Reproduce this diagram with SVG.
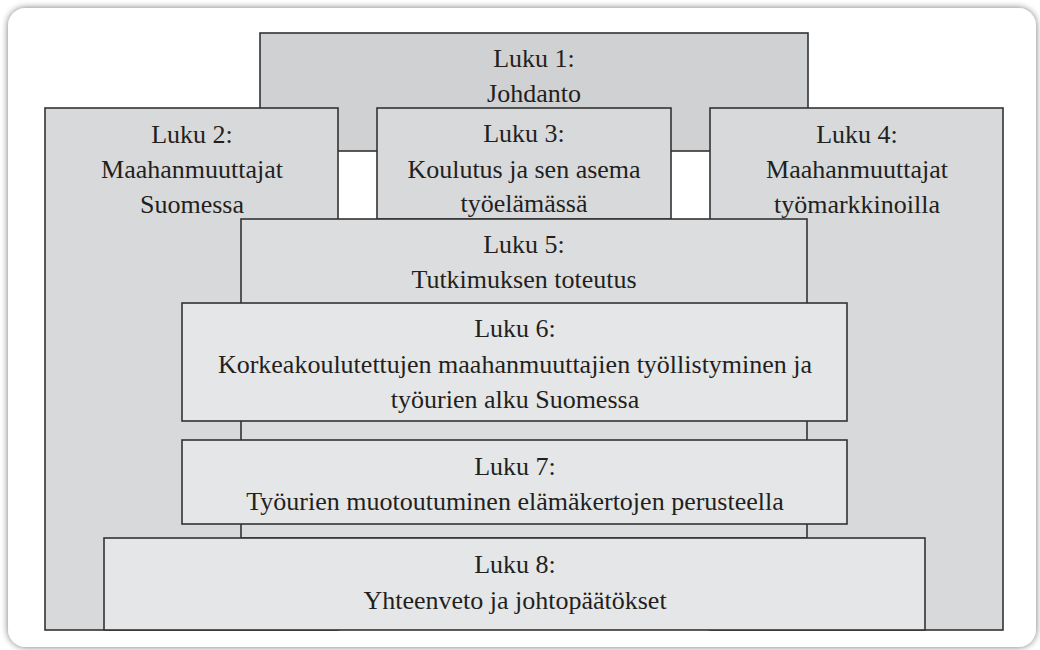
<svg xmlns="http://www.w3.org/2000/svg" width="1040" height="650" viewBox="0 0 1040 650">
  <defs>
    <filter id="shadow" x="-5%" y="-5%" width="110%" height="110%">
      <feGaussianBlur in="SourceAlpha" stdDeviation="3.5"/>
      <feComponentTransfer><feFuncA type="linear" slope="0.55"/></feComponentTransfer>
      <feMerge><feMergeNode/><feMergeNode in="SourceGraphic"/></feMerge>
    </filter>
  </defs>
  <style>
    .box { stroke: #333333; stroke-width: 1.6; }
    .dark { fill: #d0d1d3; }
    .mid { fill: #d8d9db; }
    .col { fill: #dcdddf; }
    .light { fill: #e5e6e7; }
    .t { font-size: 26px; fill: #231f20; text-anchor: middle; }
  </style>
  <rect x="8" y="8" width="1028" height="639" rx="18" ry="18" fill="#ffffff" filter="url(#shadow)"/>

  <g font-family="Liberation Serif, Tinos, Noto Serif, DejaVu Serif, serif">
  <g id="luku1">
    <rect class="box dark" x="260" y="33" width="548" height="118"/>
    <text class="t" x="534" y="67">Luku 1:</text>
    <text class="t" x="534" y="102">Johdanto</text>
  </g>
  <g id="luku2">
    <rect class="box mid" x="45" y="108" width="293" height="522"/>
    <text class="t" x="192" y="143">Luku 2:</text>
    <text class="t" x="192" y="178">Maahanmuuttajat</text>
    <text class="t" x="192" y="213">Suomessa</text>
  </g>
  <g id="luku4">
    <rect class="box mid" x="710" y="108" width="293" height="522"/>
    <text class="t" x="857" y="143">Luku 4:</text>
    <text class="t" x="857" y="178">Maahanmuuttajat</text>
    <text class="t" x="857" y="213">työmarkkinoilla</text>
  </g>
  <g id="luku3">
    <rect class="box mid" x="377" y="108" width="294" height="111"/>
    <text class="t" x="524" y="142">Luku 3:</text>
    <text class="t" x="524" y="178">Koulutus ja sen asema</text>
    <text class="t" x="524" y="212">työelämässä</text>
  </g>
  <g id="luku5">
    <rect class="box col" x="241" y="219" width="566" height="319"/>
    <text class="t" x="524" y="253">Luku 5:</text>
    <text class="t" x="524" y="288">Tutkimuksen toteutus</text>
  </g>
  <g id="luku6">
    <rect class="box light" x="182" y="303" width="665" height="118"/>
    <text class="t" x="515" y="337">Luku 6:</text>
    <text class="t" x="515" y="373">Korkeakoulutettujen maahanmuuttajien työllistyminen ja</text>
    <text class="t" x="515" y="408">työurien alku Suomessa</text>
  </g>
  <g id="luku7">
    <rect class="box light" x="182" y="440" width="665" height="84"/>
    <text class="t" x="515" y="475">Luku 7:</text>
    <text class="t" x="515" y="510">Työurien muotoutuminen elämäkertojen perusteella</text>
  </g>
  <g id="luku8">
    <rect class="box light" x="104" y="538" width="821" height="92"/>
    <text class="t" x="515" y="573">Luku 8:</text>
    <text class="t" x="515" y="609">Yhteenveto ja johtopäätökset</text>
  </g>
  </g>
  <g id="connectors"></g>
</svg>
